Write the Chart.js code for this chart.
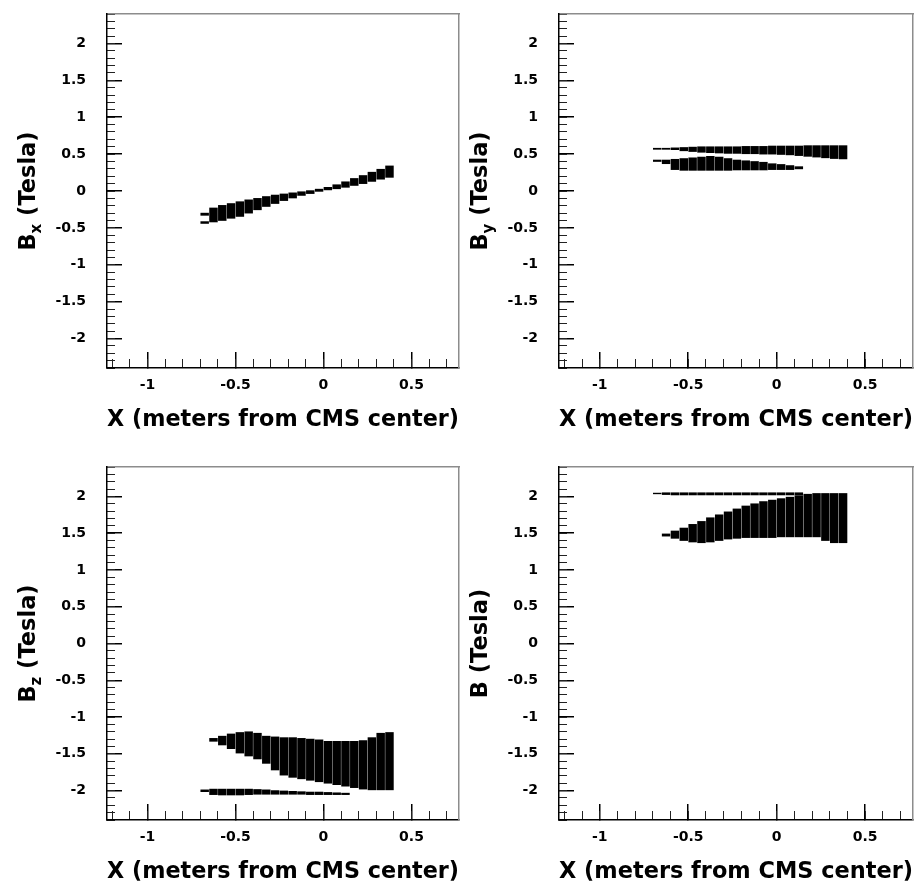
<!DOCTYPE html>
<html><head><meta charset="utf-8">
<script src="https://cdn.jsdelivr.net/npm/chart.js@4.4.1/dist/chart.umd.min.js"></script>
<style>
html,body{margin:0;padding:0;background:#fff;overflow:hidden}
#wrap{position:relative;width:921px;height:886px;background:#fff}
canvas{position:absolute;left:0;top:0}
</style></head>
<body><div id="wrap">
<canvas id="c1" width="921" height="886"></canvas>
<canvas id="c2" width="921" height="886"></canvas>
<canvas id="c3" width="921" height="886"></canvas>
<canvas id="c4" width="921" height="886"></canvas>
</div>
<script>
// ---------------- data ----------------
const xTitle = 'X (meters from CMS center)';
const xTickValues = [-1, -0.5, 0, 0.5];
const xTickLabels = ['-1', '-0.5', '0', '0.5'];
const yTickValues = [-2, -1.5, -1, -0.5, 0, 0.5, 1, 1.5, 2];
const yTickLabels = ['-2', '-1.5', '-1', '-0.5', '0', '0.5', '1', '1.5', '2'];
const xRange = [-1.23, 0.77];
const yRange = [-2.4, 2.4];

// column positions (m)
const colsMain = [-0.625,-0.575,-0.525,-0.475,-0.425,-0.375,-0.325,-0.275,-0.225,-0.175,-0.125,-0.075,-0.025,0.025,0.075,0.125,0.175,0.225,0.275,0.325,0.375];
const colsLine = [-0.675,-0.625,-0.575,-0.525,-0.475,-0.425,-0.375,-0.325,-0.275,-0.225,-0.175,-0.125,-0.075,-0.025,0.025,0.075,0.125];
const colsLower = [-0.625,-0.575,-0.525,-0.475,-0.425,-0.375,-0.325,-0.275,-0.225,-0.175,-0.125,-0.075,-0.025,0.025,0.075,0.125];
const colsTail = [-0.675, -0.675];

// Bx
const bxHi = [-0.23,-0.195,-0.17,-0.145,-0.12,-0.10,-0.075,-0.055,-0.04,-0.025,-0.01,0.005,0.025,0.05,0.085,0.125,0.17,0.21,0.255,0.295,0.34];
const bxLo = [-0.42,-0.40,-0.37,-0.345,-0.30,-0.255,-0.21,-0.17,-0.13,-0.095,-0.06,-0.035,-0.005,0.015,0.03,0.05,0.075,0.10,0.13,0.16,0.185];
const bxTailHi = [-0.30, -0.415];
const bxTailLo = [-0.33, -0.44];

// By
const byHi = [0.58,0.585,0.59,0.595,0.60,0.60,0.60,0.60,0.60,0.605,0.605,0.605,0.61,0.61,0.61,0.61,0.615,0.615,0.615,0.615,0.615];
const byLo = [0.565,0.56,0.545,0.535,0.525,0.52,0.515,0.51,0.51,0.505,0.505,0.50,0.50,0.495,0.49,0.48,0.47,0.46,0.45,0.44,0.435];
const byLowHi = [0.42,0.43,0.44,0.45,0.46,0.47,0.46,0.44,0.42,0.41,0.40,0.39,0.37,0.36,0.345,0.33];
const byLowLo = [0.37,0.29,0.28,0.28,0.28,0.28,0.28,0.28,0.285,0.285,0.285,0.285,0.29,0.29,0.29,0.30];
const byTailHi = [0.42, 0.58];
const byTailLo = [0.40, 0.565];

// Bz
const bzHi = [-1.29,-1.26,-1.23,-1.21,-1.20,-1.22,-1.26,-1.27,-1.28,-1.28,-1.29,-1.30,-1.31,-1.33,-1.33,-1.33,-1.33,-1.32,-1.28,-1.22,-1.21];
const bzLo = [-1.33,-1.38,-1.43,-1.49,-1.53,-1.57,-1.63,-1.72,-1.79,-1.82,-1.84,-1.86,-1.88,-1.90,-1.92,-1.94,-1.96,-1.98,-1.99,-1.99,-1.99];
const bzLineHi = [-1.99,-1.98,-1.98,-1.98,-1.98,-1.98,-1.985,-1.99,-2.00,-2.005,-2.01,-2.015,-2.02,-2.02,-2.025,-2.03,-2.035];
const bzLineLo = [-2.015,-2.055,-2.06,-2.06,-2.06,-2.055,-2.05,-2.05,-2.05,-2.05,-2.05,-2.05,-2.055,-2.055,-2.055,-2.055,-2.055];

// |B|
const bHi = [1.49,1.53,1.57,1.62,1.66,1.71,1.75,1.79,1.83,1.87,1.90,1.93,1.95,1.97,1.99,2.01,2.03,2.04,2.04,2.04,2.04];
const bLo = [1.46,1.43,1.40,1.38,1.37,1.38,1.40,1.42,1.43,1.44,1.44,1.44,1.44,1.45,1.45,1.45,1.45,1.45,1.40,1.37,1.37];
const bLineHi = [2.045,2.05,2.05,2.05,2.05,2.05,2.05,2.05,2.05,2.05,2.05,2.05,2.05,2.05,2.05,2.05,2.05];
const bLineLo = [2.035,2.025,2.02,2.02,2.02,2.02,2.02,2.02,2.02,2.02,2.02,2.02,2.02,2.02,2.02,2.02,2.02];

// ---------------- layout / style ----------------
const W = 921, H = 886, Y_AXIS_W = 100, X_AXIS_H = 62;
const FONT = "'DejaVu Sans', 'Liberation Sans', sans-serif";
const INK = '#000';

const panels = [
  { id: 'c1', area: { L: 107, T: 14, R: 459, B: 368 }, ytitle: [['B', 0], ['x', 1], [' (Tesla)', 0]],
    bands: [[colsMain, bxLo, bxHi], [colsTail, bxTailLo, bxTailHi]] },
  { id: 'c2', area: { L: 559, T: 14, R: 913, B: 368 }, ytitle: [['B', 0], ['y', 1], [' (Tesla)', 0]],
    bands: [[colsMain, byLo, byHi], [colsLower, byLowLo, byLowHi], [colsTail, byTailLo, byTailHi]] },
  { id: 'c3', area: { L: 107, T: 467, R: 459, B: 820 }, ytitle: [['B', 0], ['z', 1], [' (Tesla)', 0]],
    bands: [[colsMain, bzLo, bzHi], [colsLine, bzLineLo, bzLineHi]] },
  { id: 'c4', area: { L: 559, T: 467, R: 913, B: 820 }, ytitle: [['B (Tesla)', 0]],
    bands: [[colsMain, bLo, bHi], [colsLine, bLineLo, bLineHi]] },
];

function stepTicks(lo, hi, step) {
  const out = [];
  const n = Math.round((hi - lo) / step);
  for (let i = 0; i <= n; i++) out.push(Math.round((lo + i * step) * 1000) / 1000);
  return out;
}
const xMinorValues = stepTicks(-1.2, 0.7, 0.1);
const yMinorValues = stepTicks(-2.4, 2.4, 0.1);

const yTitlePlugin = {
  id: 'yTitle',
  afterDraw(chart, args, opts) {
    const { ctx, chartArea } = chart;
    const parts = opts.parts || [];
    ctx.save();
    ctx.translate(chartArea.left - 78, (chartArea.top + chartArea.bottom) / 2);
    ctx.rotate(-Math.PI / 2);
    ctx.textBaseline = 'middle';
    ctx.textAlign = 'left';
    ctx.fillStyle = INK;
    const fMain = 'bold 22.5px ' + FONT, fSub = 'bold 15px ' + FONT;
    let total = 0;
    const widths = parts.map(p => { ctx.font = p[1] ? fSub : fMain; const w = ctx.measureText(p[0]).width; total += w; return w; });
    let x = -total / 2;
    parts.forEach((p, i) => {
      ctx.font = p[1] ? fSub : fMain;
      ctx.fillText(p[0], x, p[1] ? 8 : 0);
      x += widths[i];
    });
    ctx.restore();
  }
};

function noPadX(s, h) { s.height = h; s.paddingLeft = 0; s.paddingRight = 0; s.paddingTop = 0; s.paddingBottom = 0; }
function noPadY(s, w) { s.width = w; s.paddingLeft = 0; s.paddingRight = 0; s.paddingTop = 0; s.paddingBottom = 0; }

function makeChart(p) {
  const a = p.area;
  const datasets = p.bands.map(b => ({
    type: 'bar',
    data: b[0].map((x, i) => ({ x: x, y: [b[1][i], b[2][i]] })),
    backgroundColor: INK,
    borderWidth: 0,
    grouped: false,
    barThickness: 7.8,
    xAxisID: 'x',
    yAxisID: 'y'
  }));
  const tickFont = { family: FONT, weight: 'bold', size: 14 };
  new Chart(document.getElementById(p.id), {
    type: 'bar',
    data: { datasets },
    plugins: [yTitlePlugin],
    options: {
      responsive: false,
      animation: false,
      devicePixelRatio: 1,
      layout: { padding: { left: a.L - Y_AXIS_W, top: a.T, right: W - a.R, bottom: H - a.B - X_AXIS_H } },
      plugins: { legend: { display: false }, tooltip: { enabled: false }, yTitle: { parts: p.ytitle } },
      scales: {
        x: {
          type: 'linear', position: 'bottom', weight: 1, min: xRange[0], max: xRange[1], offset: false,
          afterFit: s => noPadX(s, X_AXIS_H),
          afterBuildTicks: s => { s.ticks = xTickValues.map(v => ({ value: v })); },
          grid: { display: true, drawOnChartArea: false, drawTicks: true, tickLength: -16, color: INK, lineWidth: 1.5, offset: false },
          border: { display: true, color: INK, width: 1.5 },
          ticks: { autoSkip: false, maxRotation: 0, minRotation: 0, padding: 24.6, color: INK, font: tickFont,
                   callback: v => xTickLabels[xTickValues.indexOf(v)] },
          title: { display: true, text: xTitle, color: INK, align: 'center',
                   font: { family: FONT, weight: 'bold', size: 23, lineHeight: 0.8 }, padding: { top: 0, bottom: 1 } }
        },
        xm: {
          type: 'linear', position: 'bottom', weight: 0, min: xRange[0], max: xRange[1], offset: false,
          afterFit: s => noPadX(s, 0),
          afterBuildTicks: s => { s.ticks = xMinorValues.map(v => ({ value: v })); },
          grid: { display: true, drawOnChartArea: false, drawTicks: true, tickLength: -9, color: '#222', lineWidth: 1, offset: false },
          border: { display: false },
          ticks: { display: false }
        },
        xt: {
          type: 'linear', position: 'top', min: xRange[0], max: xRange[1], offset: false,
          afterFit: s => noPadX(s, 0),
          grid: { display: false, offset: false },
          border: { display: true, color: '#8c8c8c', width: 1.5 },
          ticks: { display: false }
        },
        y: {
          type: 'linear', position: 'left', weight: 1, min: yRange[0], max: yRange[1],
          afterFit: s => noPadY(s, Y_AXIS_W),
          afterBuildTicks: s => { s.ticks = yTickValues.map(v => ({ value: v })); },
          grid: { display: true, drawOnChartArea: false, drawTicks: true, tickLength: -15, color: INK, lineWidth: 1.5 },
          border: { display: true, color: INK, width: 1.5 },
          ticks: { autoSkip: false, padding: 36, color: INK, font: tickFont,
                   callback: v => yTickLabels[yTickValues.indexOf(v)] }
        },
        ym: {
          type: 'linear', position: 'left', weight: 0, min: yRange[0], max: yRange[1],
          afterFit: s => noPadY(s, 0),
          afterBuildTicks: s => { s.ticks = yMinorValues.map(v => ({ value: v })); },
          grid: { display: true, drawOnChartArea: false, drawTicks: true, tickLength: -8, color: '#222', lineWidth: 1 },
          border: { display: false },
          ticks: { display: false }
        },
        yr: {
          type: 'linear', position: 'right', min: yRange[0], max: yRange[1],
          afterFit: s => noPadY(s, 0),
          grid: { display: false },
          border: { display: true, color: '#8c8c8c', width: 1.5 },
          ticks: { display: false }
        }
      }
    }
  });
}
panels.forEach(makeChart);
</script>
</body></html>
